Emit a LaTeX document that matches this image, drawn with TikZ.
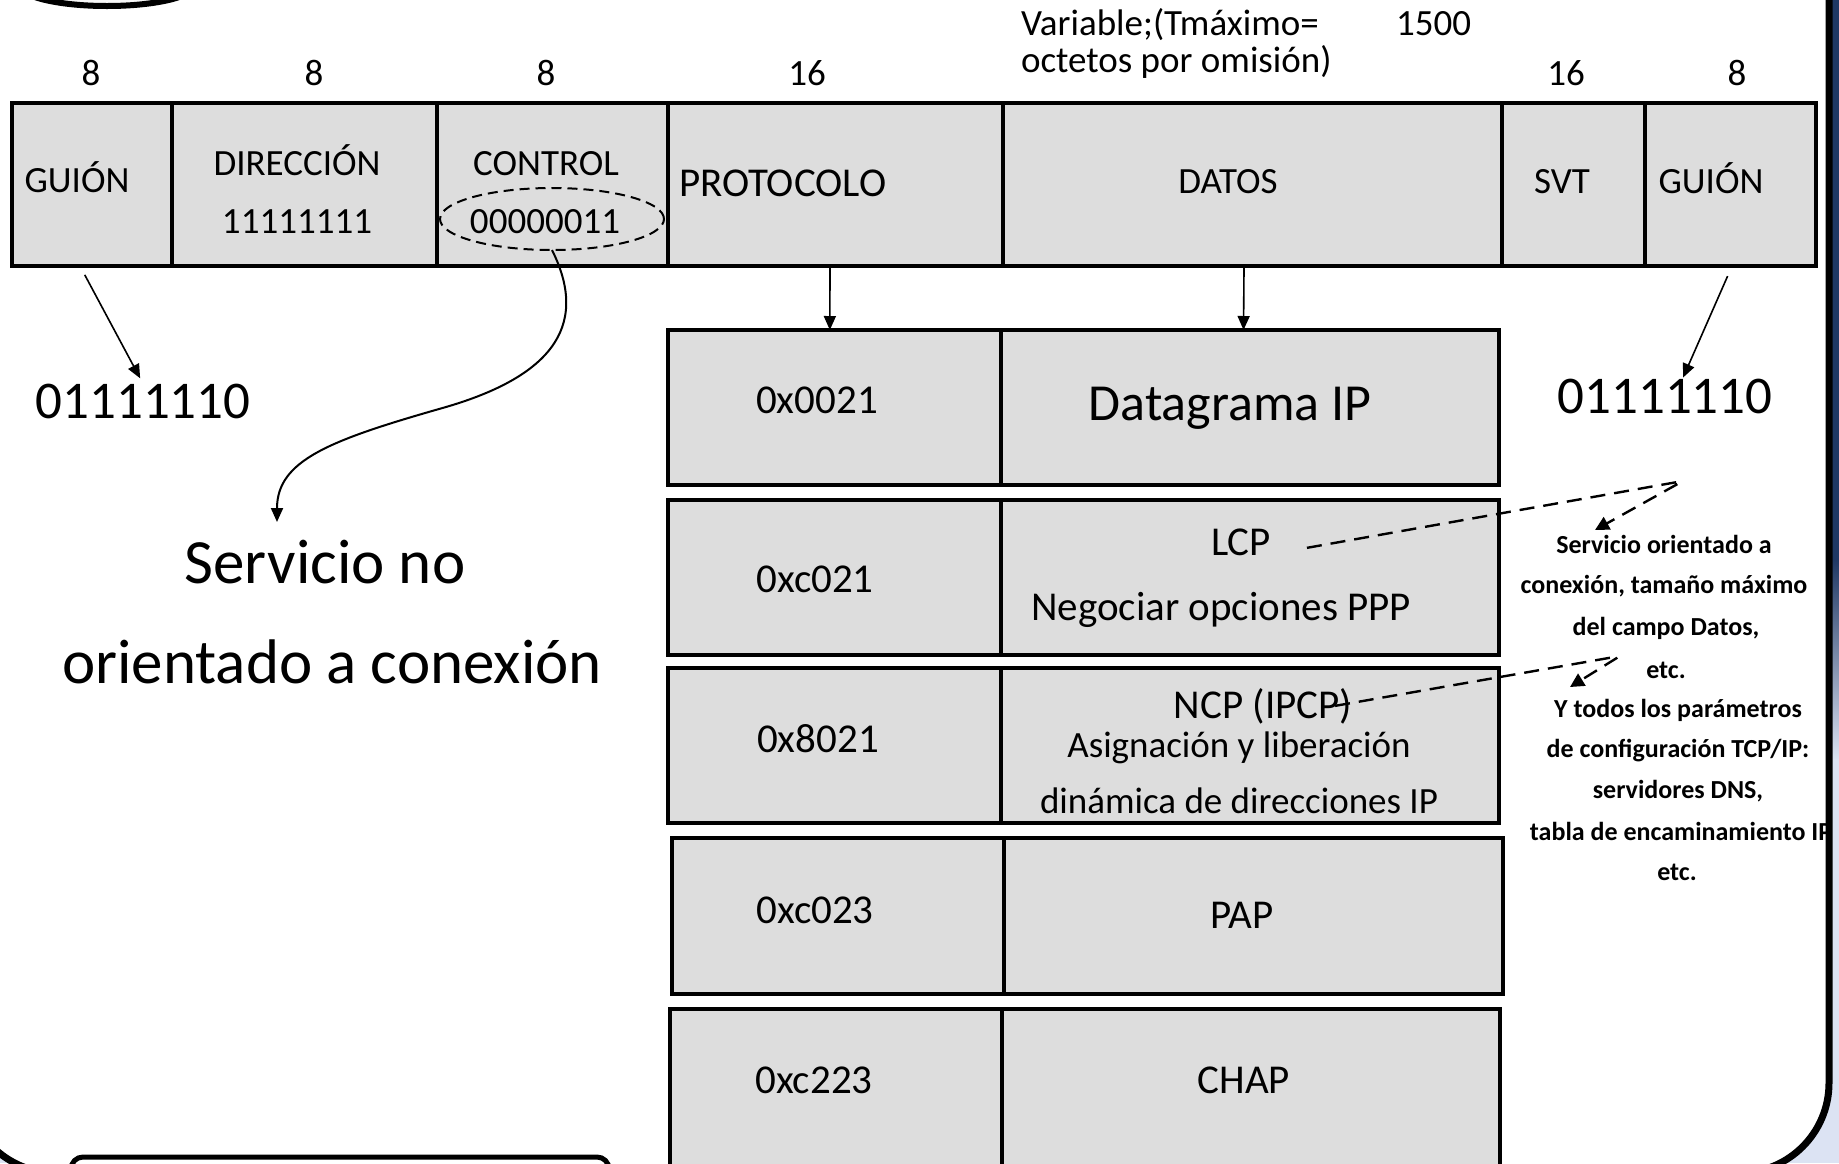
\documentclass[tikz,border=0pt]{standalone}
\usepackage{fontspec}
\setmainfont{Carlito}
\usetikzlibrary{arrows.meta,shapes.geometric,calc}
\definecolor{cellgray}{RGB}{221,221,221}
\definecolor{navyband}{RGB}{31,56,100}
\definecolor{paleblue}{RGB}{220,227,243}
\begin{document}
\begin{tikzpicture}[x=1pt,y=-1pt,
  cell/.style={draw, line width=4.5pt, fill=cellgray, inner sep=0pt, outer sep=0pt, anchor=north west},
  lbl/.style={inner sep=0pt, outer sep=0pt, anchor=base},
  lblw/.style={inner sep=0pt, outer sep=0pt, anchor=base west},
  fa/.style={font=\fontsize{37pt}{44pt}\selectfont},
  fb/.style={font=\fontsize{41pt}{49pt}\selectfont},
  fc/.style={font=\fontsize{37pt}{44pt}\selectfont},
  fd/.style={font=\fontsize{52pt}{62pt}\selectfont},
  fe/.style={font=\fontsize{53pt}{63pt}\selectfont},
  ff/.style={font=\fontsize{63pt}{75pt}\selectfont},
  fg/.style={font=\bfseries\fontsize{26pt}{31pt}\selectfont},
  arr/.style={line width=1.6pt, -{Triangle[length=14pt,width=12pt]}},
  darr/.style={line width=2.4pt, dash pattern=on 15pt off 9pt, rounded corners=4pt, -{Triangle[length=14pt,width=14pt]}},
]
\useasboundingbox (0,0) rectangle (1839,1163);
\clip (0,0) rectangle (1839,1163);
% background outside the slide frame
\fill[navyband] (0,0) rectangle (1839,560);
\shade[top color=navyband, bottom color=paleblue] (0,559) rectangle (1839,760);
\fill[paleblue] (0,759) rectangle (1839,1163);
\fill[white] (-34,-300) [rounded corners=90pt] rectangle (1829,1173);
% top-left ellipse fragment
\draw[line width=6pt, fill=gray!6] (107,-15) ellipse [x radius=88, y radius=21];
% bottom-left rounded box
\draw[line width=5pt, fill=white, rounded corners=12pt] (71,1157) rectangle (609,1320);

% ---- top frame row ----
\node[cell, minimum width=160, minimum height=163] (c1) at (12,103) {};
\node[cell, minimum width=265, minimum height=163] (c2) at (172,103) {};
\node[cell, minimum width=231, minimum height=163] (c3) at (437,103) {};
\node[cell, minimum width=335, minimum height=163] (c4) at (668,103) {};
\node[cell, minimum width=499, minimum height=163] (c5) at (1003,103) {};
\node[cell, minimum width=143, minimum height=163] (c6) at (1502,103) {};
\node[cell, minimum width=171, minimum height=163] (c7) at (1645,103) {};

\node[lbl, fa] (w1) at (91,85) {8};
\node[lbl, fa] (w2) at (314,85) {8};
\node[lbl, fa] (w3) at (546,85) {8};
\node[lbl, fa] (w4) at (807,85) {16};
\node[lbl, fa] (w6) at (1566,85) {16};
\node[lbl, fa] (w7) at (1737,85) {8};
\node[lblw, fa] (var1) at (1021,35) {Variable;(Tmáximo=};
\node[lblw, fa] (var1b) at (1396,35) {1500};
\node[lblw, fa] (var2) at (1021,72) {octetos por omisión)};

\node[lbl, fa] (t1) at (77,192) {GUIÓN};
\node[lbl, fa] (t2a) at (297,175) {DIRECCIÓN};
\node[lbl, fa] (t2b) at (297,233) {11111111};
\node[lbl, fa] (t3a) at (546,175) {CONTROL};
\node[lbl, fa] (t3b) at (545,233) {00000011};
\node[lblw, fb] (t4) at (679,196) {PROTOCOLO};
\node[lbl, fa] (t5) at (1228,193) {DATOS};
\node[lbl, fa] (t6) at (1562,193) {SVT};
\node[lbl, fa] (t7) at (1711,193) {GUIÓN};

\node[draw, line width=2pt, ellipse, inner sep=0pt, outer sep=0pt,
      minimum width=224, minimum height=62, dash pattern=on 10pt off 6pt] (ell) at (552,219) {};

% ---- protocol table ----
\node[cell, minimum width=333, minimum height=155] (r1a) at (668,330) {};
\node[cell, minimum width=498, minimum height=155] (r1b) at (1001,330) {};
\node[cell, minimum width=333, minimum height=155] (r2a) at (668,500) {};
\node[cell, minimum width=498, minimum height=155] (r2b) at (1001,500) {};
\node[cell, minimum width=333, minimum height=155] (r3a) at (668,668) {};
\node[cell, minimum width=498, minimum height=155] (r3b) at (1001,668) {};
\node[cell, minimum width=332, minimum height=156] (r4a) at (672,838) {};
\node[cell, minimum width=499, minimum height=156] (r4b) at (1004,838) {};
\node[cell, minimum width=332, minimum height=220] (r5a) at (670,1009) {};
\node[cell, minimum width=498, minimum height=220] (r5b) at (1002,1009) {};

\node[lbl, fb] (p1) at (817,413) {0x0021};
\node[lbl, fd] (d1) at (1230,420) {Datagrama IP};
\node[lbl, fb] (p2) at (815,592) {0xc021};
\node[lbl, fb] (lcp) at (1241,555) {LCP};
\node[lbl, fb] (d2) at (1221,620) {Negociar opciones PPP};
\node[lbl, fb] (p3) at (818,752) {0x8021};
\node[lbl, fb] (ncp) at (1263,718) {NCP (IPCP)};
\node[lbl, fc] (d3a) at (1239,757) {Asignación y liberación};
\node[lbl, fc] (d3b) at (1239,813) {dinámica de direcciones IP};
\node[lbl, fb] (p4) at (815,923) {0xc023};
\node[lbl, fb] (d4) at (1242,928) {PAP};
\node[lbl, fb] (p5) at (814,1093) {0xc223};
\node[lbl, fb] (d5) at (1244,1093) {CHAP};

% ---- free labels ----
\node[lbl, fe] (flagL) at (143,418) {01111110};
\node[lbl, fe] (flagR) at (1665,413) {01111110};
\node[lbl, ff] (svc1) at (325,583) {Servicio no};
\node[lbl, ff] (svc2) at (332,683) {orientado a conexión};

\node[lbl, fg] (n1) at (1664,553) {Servicio orientado a};
\node[lbl, fg] (n2) at (1664,593) {conexión, tamaño máximo};
\node[lbl, fg] (n3) at (1666,635) {del campo Datos,};
\node[lbl, fg] (n4) at (1666,678) {etc.};
\node[lbl, fg] (n5) at (1678,717) {Y todos los parámetros};
\node[lbl, fg] (n6) at (1678,757) {de configuración TCP/IP:};
\node[lbl, fg] (n7) at (1678,798) {servidores DNS,};
\node[lbl, fg] (n8) at (1681,840) {tabla de encaminamiento IP};
\node[lbl, fg] (n9) at (1677,880) {etc.};

% ---- connectors ----
\draw[arr] ($(c4.south west)!0.4836!(c4.south east)$) -- ($(r1a.north west)!0.486!(r1a.north east)$);
\draw[arr] ($(c5.south west)!0.483!(c5.south east)$) -- ($(r1b.north west)!0.487!(r1b.north east)$);
\draw[arr, shorten <=10pt, shorten >=6pt] ($(c1.south west)!0.425!(c1.south east)$) -- (flagL.north);
\coordinate (flagRtip) at ($(flagR.north)+(18,-1)$);
\draw[arr, shorten <=11pt] ($(c7.south west)!0.509!(c7.south east)$) -- (flagRtip);
\coordinate (svcTip) at (277,522);
\draw[line width=2pt, -{Triangle[length=14pt,width=12pt]}] (ell.south)
  .. controls (592,330) and (545,378) .. (446,407)
  .. controls (330,440) and (277,460) .. (svcTip);
\coordinate (lcpTurn) at (1683,481);
\coordinate (lcpTip) at (1595,530);
\draw[darr] ([xshift=36pt,yshift=-6pt]lcp.east) -- (lcpTurn) -- (lcpTip);
\coordinate (ncpTurn) at (1620,656);
\coordinate (ncpTip) at (1570,687);
\draw[darr] ([xshift=-17pt]ncp.east) -- (ncpTurn) -- (ncpTip);

% frame line drawn on top
\draw[line width=7pt, rounded corners=90pt] (-34,-300) rectangle (1829,1173);
\end{tikzpicture}
\end{document}
